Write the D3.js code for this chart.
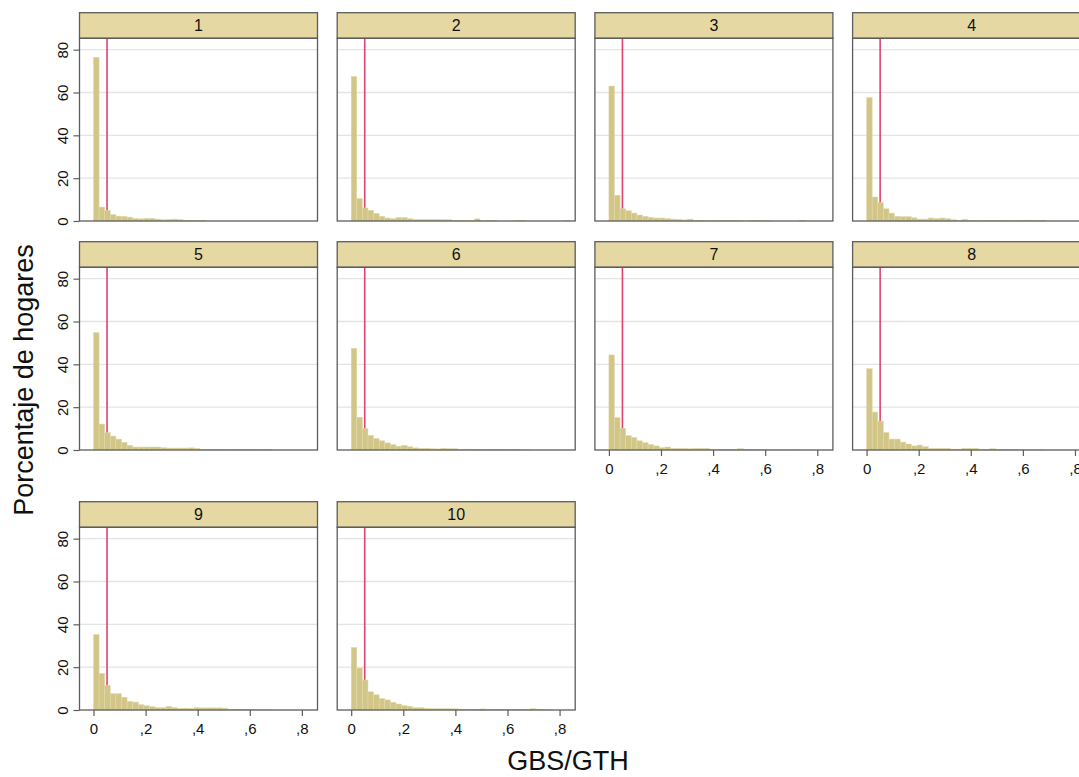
<!DOCTYPE html>
<html>
<head>
<meta charset="utf-8">
<script src="https://cdn.jsdelivr.net/npm/d3@7"></script>
<style>
  body { margin: 0; background: #fff; }
  text { font-family: "Liberation Sans", Arial, sans-serif; fill: #111; }
</style>
</head>
<body>
<div id="chart"></div>
<script>
var width = 1079
var height = 777

// facet labels, tick values, threshold
var panelLabels = ["1", "2", "3", "4", "5", "6", "7", "8", "9", "10"]
var xTicks = [0, 0.2, 0.4, 0.6, 0.8]
var yTicks = [0, 20, 40, 60, 80]
var binWidth = 0.0215
var cutoff = 0.052

// percent of households per bin, one array per panel
var pct1 = [76.4, 6.5, 5.0, 3.0, 2.3, 2.2, 1.8, 1.2, 1.0, 1.3, 1.3, 0.9, 0.6, 0.8, 0.9, 0.7, 0.2, 0.3, 0.2, 0.3]
var pct2 = [67.5, 10.5, 6.1, 5.0, 3.6, 2.2, 1.4, 1.1, 1.6, 1.6, 1.1, 0.8, 0.8, 0.8, 0.8, 0.8, 0.7, 0.6, 0.3, 0.2,
            0.3, 0.1, 1.0, 0.1, 0.2, 0.3, 0, 0, 0, 0.1, 0.2, 0, 0, 0, 0, 0, 0, 0, 0.2]
var pct3 = [63.0, 12.0, 5.7, 4.8, 3.7, 2.8, 2.2, 1.7, 1.4, 1.4, 1.1, 0.9, 0.8, 0.5, 0.9, 0.3, 0.3, 0.1, 0.1, 0.3,
            0.3, 0.3, 0.2, 0.1, 0, 0.3, 0.3, 0.2, 0.1, 0, 0, 0, 0, 0, 0.3]
var pct4 = [57.6, 11.2, 8.7, 5.7, 3.7, 2.2, 2.0, 2.0, 1.5, 0.9, 0.9, 1.4, 1.2, 1.4, 1.1, 0.6, 0.3, 0.8, 0.3, 0.2,
            0.2, 0.3, 0.3, 0.3, 0.2, 0.2, 0.2, 0.2, 0.4, 0.3, 0.2, 0.3]
var pct5 = [54.8, 12.1, 8.1, 6.5, 5.1, 3.6, 2.2, 1.4, 1.4, 1.4, 1.4, 1.4, 1.1, 0.9, 0.9, 0.9, 0.9, 1.0, 0.8, 0.3,
            0.3, 0.2, 0.2, 0.2, 0.2, 0.2, 0.3, 0.2, 0.2, 0.2, 0.2, 0.3]
var pct6 = [47.5, 15.3, 10.0, 6.8, 5.3, 4.3, 3.3, 2.5, 1.8, 2.2, 1.5, 1.0, 0.8, 0.8, 0.6, 0.5, 0.8, 0.6, 0.6, 0.3,
            0.4, 0.3, 0.2, 0.2, 0.2, 0.3, 0.2, 0.2, 0.2, 0.2, 0.2, 0.1]
var pct7 = [44.4, 15.1, 10.1, 6.7, 5.9, 4.3, 3.4, 2.6, 1.9, 1.1, 1.4, 0.8, 0.8, 0.8, 0.6, 0.8, 0.8, 0.8, 0.4, 0.3,
            0.3, 0.3, 0.3, 0.6, 0.3, 0.2, 0.2, 0.2, 0.2, 0.1, 0.1, 0.1, 0.1, 0.1]
var pct8 = [38.0, 17.7, 13.5, 8.2, 5.1, 5.1, 3.7, 2.8, 1.9, 2.3, 1.6, 0.8, 0.8, 0.8, 0.8, 0.4, 0.4, 0.8, 0.8, 0.8,
            0.4, 0.3, 0.6, 0.3, 0.2, 0.2, 0.2, 0.2, 0.1, 0.1, 0.1, 0.1]
var pct9 = [35.3, 17.1, 11.5, 7.6, 7.6, 6.0, 4.0, 3.7, 2.5, 2.0, 1.6, 1.1, 1.1, 1.7, 1.1, 0.8, 0.9, 0.8, 1.1, 1.0,
            1.0, 1.0, 1.0, 0.9, 0.3, 0.3, 0.3, 0.3, 0.2, 0.1, 0.1, 0.1]
var pct10 = [29.2, 19.6, 14.0, 8.5, 7.1, 5.4, 4.7, 3.6, 2.8, 2.0, 1.7, 1.1, 1.1, 0.8, 0.6, 0.6, 0.6, 0.6, 0.6, 0.4,
             0.4, 0.3, 0.2, 0.5, 0.2, 0.2, 0.2, 0.2, 0.2, 0.2, 0.2, 0.2, 0.6, 0.3, 0.1, 0.1]

var allPct = [pct1, pct2, pct3, pct4, pct5, pct6, pct7, pct8, pct9, pct10]

// layout of the facet grid
var colLeft = [79.5, 337.2, 594.9, 852.6]
var stripTop = [12.7, 241.7, 501.7]
var panelW = 238
var stripH = 25.6
var plotH = 182.7

var svg = d3.select("#chart")
    .append("svg")
    .attr("width", width)
    .attr("height", height)

svg.append("rect")
    .attr("width", width)
    .attr("height", height)
    .attr("fill", "#fff")

var x = d3.scaleLinear()
    .domain([-0.0537, 0.86])
    .range([0, panelW])

var y = d3.scaleLinear()
    .domain([0, 85.3])
    .range([plotH, 0])

var commaFmt = d3.formatLocale({decimal: ",", thousands: ".", grouping: [3], currency: ["", ""]}).format(".1f")

function xLabel(d) {
    if (d === 0) return "0";
    return commaFmt(d).replace(/^0/, "");
}

function drawPanel(i) {
    var row = Math.floor(i / 4)
    var col = i % 4
    var left = colLeft[col]
    var top = stripTop[row] + stripH
    // panels with nothing underneath get an x axis
    var hasXAxis = (i + 4) >= panelLabels.length

    var g = svg.append("g")
        .attr("transform", "translate(" + left + "," + top + ")")

    // strip
    g.append("rect")
        .attr("x", 0)
        .attr("y", -stripH)
        .attr("width", panelW)
        .attr("height", stripH)
        .attr("fill", "#e6d8a2")
        .attr("stroke", "#5c5c5c")
        .attr("stroke-width", 1.3)

    g.append("text")
        .attr("x", panelW / 2)
        .attr("y", -stripH / 2)
        .attr("dy", "0.36em")
        .attr("text-anchor", "middle")
        .attr("font-size", 16)
        .text(panelLabels[i])

    // gridlines
    g.selectAll(".grid")
        .data(yTicks.filter(function(d) { return d > 0; }))
        .enter()
        .append("line")
        .attr("x1", 0)
        .attr("x2", panelW)
        .attr("y1", function(d) { return y(d); })
        .attr("y2", function(d) { return y(d); })
        .attr("stroke", "#e4e4e4")
        .attr("stroke-width", 1.3)

    // threshold line (behind the bars)
    g.append("line")
        .attr("x1", x(cutoff))
        .attr("x2", x(cutoff))
        .attr("y1", 0)
        .attr("y2", y(0))
        .attr("stroke", "#e2426f")
        .attr("stroke-width", 1.6)

    var bins = allPct[i].map(function(v, k) {
        return {x0: k * binWidth, x1: (k + 1) * binWidth, v: v};
    }).filter(function(d) { return d.v > 0; })

    g.selectAll(".bar")
        .data(bins)
        .enter()
        .append("rect")
        .attr("x", function(d) { return x(d.x0); })
        .attr("width", function(d) { return x(d.x1) - x(d.x0); })
        .attr("y", function(d) { return y(d.v); })
        .attr("height", function(d) { return y(0) - y(d.v); })
        .attr("fill", "#d1c688")
        .attr("stroke", "#e2daab")
        .attr("stroke-width", 0.5)

    // frame
    g.append("rect")
        .attr("width", panelW)
        .attr("height", plotH)
        .attr("fill", "none")
        .attr("stroke", "#5c5c5c")
        .attr("stroke-width", 1.3)

    if (col === 0) {
        var ya = g.append("g")
            .call(d3.axisLeft(y).tickValues(yTicks).tickSize(6).tickSizeOuter(0))
        ya.select(".domain").remove()
        ya.selectAll("line").attr("stroke", "#5c5c5c").attr("stroke-width", 1.2)
        ya.selectAll("text")
            .attr("transform", "rotate(-90)")
            .attr("x", 0)
            .attr("y", -12)
            .attr("dy", 0)
            .attr("text-anchor", "middle")
            .attr("font-size", 15)
            .attr("font-family", "Liberation Sans, Arial, sans-serif")
            .attr("fill", "#111")
    }

    if (hasXAxis) {
        var xa = g.append("g")
            .attr("transform", "translate(0," + plotH + ")")
            .call(d3.axisBottom(x).tickValues(xTicks).tickFormat(xLabel).tickSize(6).tickSizeOuter(0))
        xa.select(".domain").remove()
        xa.selectAll("line").attr("stroke", "#5c5c5c").attr("stroke-width", 1.2)
        xa.selectAll("text")
            .attr("y", 13.5)
            .attr("font-size", 15)
            .attr("font-family", "Liberation Sans, Arial, sans-serif")
            .attr("fill", "#111")
    }
}

for (var i = 0; i < panelLabels.length; i++) {
    drawPanel(i);
}

// axis titles
svg.append("text")
    .attr("transform", "translate(33,380) rotate(-90)")
    .attr("text-anchor", "middle")
    .attr("font-size", 27)
    .text("Porcentaje de hogares")

svg.append("text")
    .attr("x", 568)
    .attr("y", 770)
    .attr("text-anchor", "middle")
    .attr("font-size", 27)
    .text("GBS/GTH")
</script>
</body>
</html>
